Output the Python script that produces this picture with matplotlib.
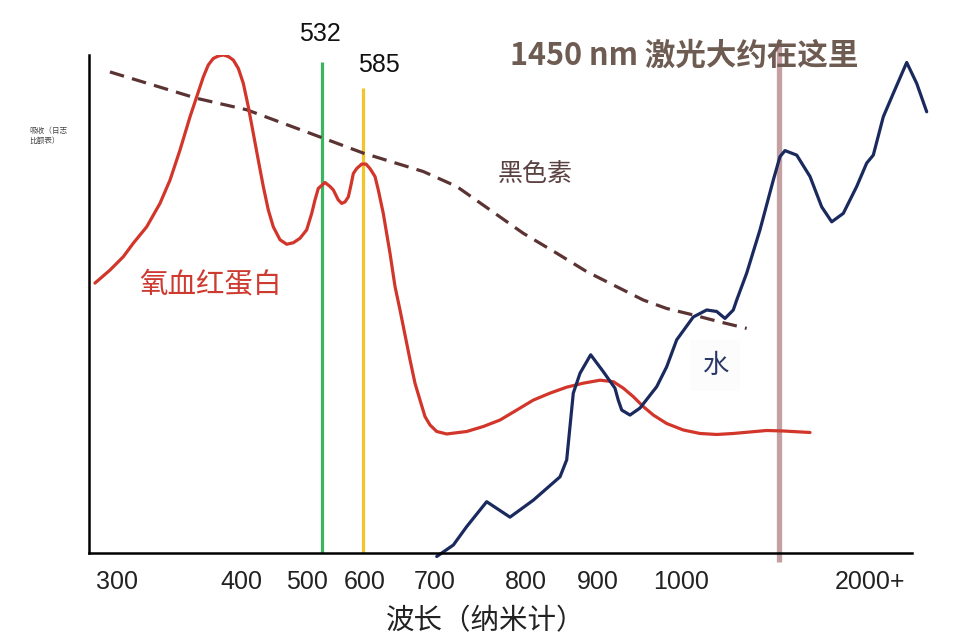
import numpy as np
import matplotlib
matplotlib.use('Agg')
import matplotlib.pyplot as plt

plt.rcParams['font.family'] = ['Noto Sans CJK SC', 'DejaVu Sans']

# wavelength (nm) -> relative absorbance (log scale, arbitrary units 0..100)
hbo2_nm = [281.8, 293.9, 304.7, 312.7, 323.5, 334.2, 342.3, 350.3, 358.4, 369.1,
           373.1, 377.1, 381.2, 385.2, 389.2, 393.2, 397.3, 402.5, 410.2, 417.8,
           425.5, 433.2, 440.9, 448.6, 458.9, 469.2, 479.4, 489.7, 500.0, 510.7,
           517.7, 524.7, 536.2, 542.6, 546.8, 553.1, 557.5, 561.7, 565.9, 568.9,
           572.3, 576.6, 583.0, 601.4, 607.1, 614.3, 619.0, 626.1, 635.7, 642.9,
           650.0, 664.3, 671.4, 678.6, 685.7, 692.9, 701.9, 712.9, 734.9, 753.2,
           771.6, 790.0, 810.3, 833.4, 856.4, 879.3, 902.1, 918.2, 930.3, 942.4,
           954.5, 966.7, 982.9, 1011.4, 1087.7, 1164.0, 1239.8, 1392.4, 1474.3, 1636.2]
hbo2_abs = [54.2, 56.8, 59.5, 62.2, 65.5, 70.2, 74.9, 80.9, 87.6, 95.6,
            98.0, 99.3, 99.8, 100.0, 99.7, 99.0, 97.3, 94.3, 89.6, 84.3,
            78.9, 73.6, 68.9, 65.5, 62.9, 62.0, 62.3, 63.2, 64.9, 68.2,
            70.9, 73.2, 74.4, 73.6, 72.9, 70.9, 70.2, 70.5, 71.5, 73.6,
            76.2, 77.2, 78.1, 78.1, 77.2, 75.6, 72.9, 68.2, 60.2, 53.5,
            48.8, 38.8, 34.1, 30.7, 27.4, 25.7, 24.4, 23.9, 24.4, 25.4,
            26.7, 28.7, 30.7, 32.1, 33.3, 34.1, 34.7, 34.4, 33.1, 31.4,
            29.4, 27.7, 26.0, 24.7, 24.0, 23.8, 24.0, 24.6, 24.5, 24.2]

water_nm = [701.9, 720.2, 734.9, 756.9, 782.6, 810.3, 847.2, 856.4, 865.5, 874.8,
            889.5, 906.1, 920.2, 924.2, 928.4, 938.4, 950.5, 970.8, 982.9, 995.0,
            1057.1, 1118.3, 1164.0, 1201.9, 1239.8, 1255.4, 1301.0, 1361.8, 1422.6, 1454.2,
            1484.6, 1555.5, 1636.2, 1707.1, 1767.8, 1838.1, 1919.4, 1980.0, 2020.0, 2080.6,
            2141.2, 2222.4, 2283.0, 2343.6]
water_abs = [-0.7, 1.6, 5.3, 10.3, 7.2, 10.6, 15.3, 18.7, 32.1, 36.1,
             39.8, 36.4, 33.1, 30.7, 28.7, 27.7, 29.1, 33.4, 37.4, 42.8,
             47.4, 48.8, 48.5, 47.1, 48.8, 50.8, 56.2, 64.9, 74.9, 79.6,
             80.8, 79.9, 75.6, 69.5, 66.5, 68.2, 73.6, 78.3, 79.9, 87.6,
             92.3, 98.5, 94.3, 88.6]

melanin_nm = [293.9, 363.8, 407.7, 534.0, 585.0, 683.3, 723.9, 760.6, 797.2, 842.6,
              884.0, 954.5, 982.9, 1057.1, 1179.1, 1301.0]
melanin_abs = [96.6, 91.3, 89.0, 83.3, 80.3, 76.6, 73.6, 68.9, 64.2, 60.2,
               56.5, 50.8, 49.1, 47.8, 46.4, 45.1]

tick_nm = [300, 400, 500, 600, 700, 800, 900, 1000, 2000]
tick_labels = ['300', '400', '500', '600', '700', '800', '900', '1000', '2000+']

# the axis of the original is drawn by hand: piecewise scale
ANCHOR_NM = [277, 300, 400, 500, 532, 585, 600, 700, 800, 900, 1000, 1450, 2000, 2400]
ANCHOR_POS = [89, 117.5, 241.7, 306.7, 321.7, 363.3, 365, 435, 525.8, 598.3, 680.8,
              779.3, 870, 936]


def fwd(w):
    return np.interp(w, ANCHOR_NM, ANCHOR_POS)


def inv(p):
    return np.interp(p, ANCHOR_POS, ANCHOR_NM)


fig = plt.figure(figsize=(9.6, 6.41), dpi=100)
ax = fig.add_axes([89 / 960, 88 / 641, 847 / 960, 498 / 641])
ax.set_xscale('function', functions=(fwd, inv))
ax.set_xlim(277, 2400)
ax.set_ylim(0, 100)

# laser lines
ax.vlines(532, 0, 98.6, color='#3db55e', lw=2.3, zorder=2)
ax.vlines(585, 0, 93.4, color='#f4c22b', lw=2.3, zorder=2)
ax.vlines(1450, -1.8, 103, color='#c4a0a2', lw=3.8, zorder=2, clip_on=False)

ax.plot(melanin_nm, melanin_abs, color='#5b3333', lw=2.3,
        linestyle=(0, (4.6, 2.6)), zorder=3)
ax.plot(hbo2_nm, hbo2_abs, color='#d2362b', lw=2.3, zorder=4,
        solid_joinstyle='round', solid_capstyle='round')
ax.plot(water_nm, water_abs, color='#1a2a5e', lw=2.3, zorder=4,
        solid_joinstyle='round', solid_capstyle='round', clip_on=False)

for s in ['top', 'right']:
    ax.spines[s].set_visible(False)
ax.spines['left'].set_linewidth(1.8)
ax.spines['bottom'].set_linewidth(1.8)
ax.spines['bottom'].set_bounds(277, 2254)
ax.spines['left'].set_zorder(6)
ax.spines['bottom'].set_zorder(6)

ax.set_yticks([])
ax.set_xticks(tick_nm)
ax.set_xticklabels(tick_labels, family=['Liberation Sans', 'DejaVu Sans'],
                   fontsize=18, color='#222222')
ax.tick_params(axis='x', length=0, pad=12)

ax.set_xlabel('波长（纳米计）', fontsize=20.5, color='#222222', va='center')
ax.xaxis.set_label_coords((486 - 89) / 847, (553 - 621) / 498)

# labels
ax.annotate('532', xy=(532, 98.6), xytext=(-1.6, 20), textcoords='offset points',
            ha='center', va='center', fontsize=18,
            family=['Liberation Sans', 'DejaVu Sans'], color='#111111')
ax.annotate('585', xy=(585, 93.4), xytext=(11, 16.5), textcoords='offset points',
            ha='center', va='center', fontsize=18,
            family=['Liberation Sans', 'DejaVu Sans'], color='#111111')

ax.text(375, 54, '氧血红蛋白', fontsize=20.5, color='#cc3a30', ha='center', va='center',
        zorder=5, bbox=dict(boxstyle='square,pad=0.3', fc='white', ec='none', alpha=0.6))
ax.text(813, 76.1, '黑色素', fontsize=18, color='#5b4242', ha='center', va='center',
        zorder=5)
ax.text(1158, 37.6, '水', fontsize=19, color='#2a3868', ha='center', va='center',
        zorder=5, bbox=dict(boxstyle='square,pad=0.45', fc='#fcfcfc', ec='none', alpha=0.8))

fig.text(510 / 960, 1 - 56 / 641, '1450 nm 激光大约在这里', fontsize=22,
         fontweight='bold', color='#6e5c52', ha='left', va='center')
fig.text(29 / 960, 1 - 127 / 641, '吸收（日志\n比额表）', fontsize=5.5,
         color='#444444', ha='left', va='top', linespacing=1.3)

fig.savefig('out.png', dpi=100, facecolor='white')
